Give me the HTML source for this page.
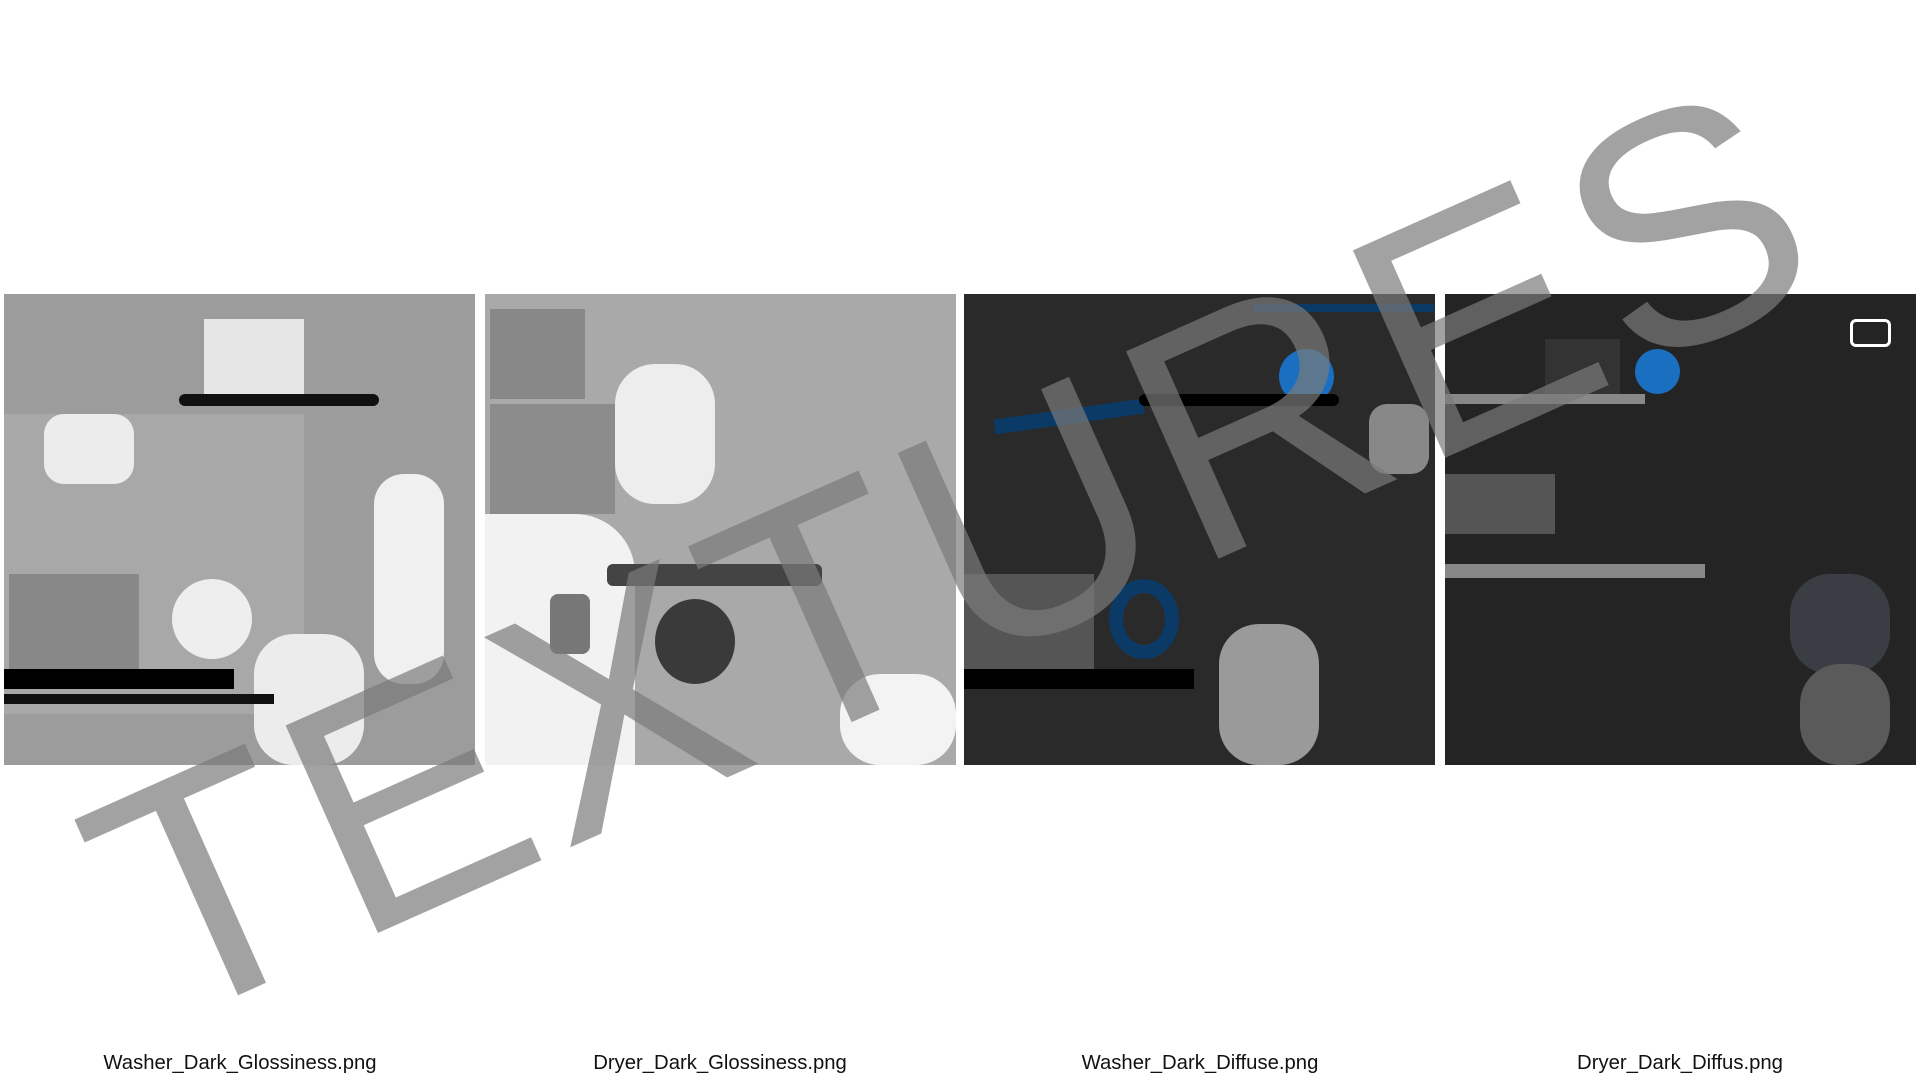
<!DOCTYPE html>
<html><head><meta charset="utf-8"><style>
html,body{margin:0;padding:0;width:1920px;height:1080px;background:#fff;overflow:hidden;position:relative;font-family:"Liberation Sans",sans-serif}
.p{position:absolute;top:294px;width:471px;height:471px;overflow:hidden}
.b{position:absolute}
.lbl{position:absolute;top:1052px;font-size:20.3px;color:#111;width:480px;text-align:center}
</style></head><body>
<div class="p" style="left:4px;background:#9c9c9c">
 <div class="b" style="left:200px;top:25px;width:100px;height:80px;background:#e6e6e6"></div>
 <div class="b" style="left:0;top:120px;width:300px;height:300px;background:#a8a8a8"></div>
 <div class="b" style="left:40px;top:120px;width:90px;height:70px;background:#ececec;border-radius:20px"></div>
 <div class="b" style="left:175px;top:100px;width:200px;height:12px;background:#111;border-radius:6px"></div>
 <div class="b" style="left:370px;top:180px;width:70px;height:210px;background:#f0f0f0;border-radius:30px"></div>
 <div class="b" style="left:5px;top:280px;width:130px;height:100px;background:#888"></div>
 <div class="b" style="left:168px;top:285px;width:80px;height:80px;background:#eee;border-radius:50%"></div>
 <div class="b" style="left:250px;top:340px;width:110px;height:131px;background:#ececec;border-radius:40px"></div>
 <div class="b" style="left:0;top:375px;width:230px;height:20px;background:#000"></div>
 <div class="b" style="left:0;top:400px;width:270px;height:10px;background:#111"></div>
</div>
<div class="p" style="left:485px;background:#a9a9a9">
 <div class="b" style="left:5px;top:15px;width:95px;height:90px;background:#888"></div>
 <div class="b" style="left:5px;top:110px;width:125px;height:110px;background:#8c8c8c"></div>
 <div class="b" style="left:0;top:220px;width:150px;height:251px;background:#f2f2f2;border-radius:0 60px 0 0"></div>
 <div class="b" style="left:130px;top:70px;width:100px;height:140px;background:#ededed;border-radius:40px"></div>
 <div class="b" style="left:122px;top:270px;width:215px;height:22px;background:#444;border-radius:6px"></div>
 <div class="b" style="left:65px;top:300px;width:40px;height:60px;background:#777;border-radius:8px"></div>
 <div class="b" style="left:170px;top:305px;width:80px;height:85px;background:#3a3a3a;border-radius:50%"></div>
 <div class="b" style="left:355px;top:380px;width:116px;height:91px;background:#f3f3f3;border-radius:40px"></div>
</div>
<div class="p" style="left:964px;background:#2a2a2a">
 <div class="b" style="left:290px;top:10px;width:180px;height:8px;background:#0b3a66"></div>
 <div class="b" style="left:315px;top:55px;width:55px;height:55px;background:#1a6fc0;border-radius:50%"></div>
 <div class="b" style="left:30px;top:115px;width:150px;height:15px;background:#0b3a66;transform:rotate(-8deg)"></div>
 <div class="b" style="left:175px;top:100px;width:200px;height:12px;background:#000;border-radius:6px"></div>
 <div class="b" style="left:405px;top:110px;width:60px;height:70px;background:#888;border-radius:18px"></div>
 <div class="b" style="left:145px;top:285px;width:70px;height:80px;border:14px solid #0b3a66;border-radius:50%;box-sizing:border-box"></div>
 <div class="b" style="left:0;top:280px;width:130px;height:100px;background:#555"></div>
 <div class="b" style="left:255px;top:330px;width:100px;height:141px;background:#9a9a9a;border-radius:40px"></div>
 <div class="b" style="left:0;top:375px;width:230px;height:20px;background:#000"></div>
</div>
<div class="p" style="left:1445px;background:#242424">
 <div class="b" style="left:100px;top:45px;width:75px;height:60px;background:#333"></div>
 <div class="b" style="left:190px;top:55px;width:45px;height:45px;background:#1a6fc0;border-radius:50%"></div>
 <div class="b" style="left:405px;top:25px;width:35px;height:22px;border:3px solid #fff;border-radius:6px"></div>
 <div class="b" style="left:0;top:100px;width:200px;height:10px;background:#888"></div>
 <div class="b" style="left:0;top:180px;width:110px;height:60px;background:#555"></div>
 <div class="b" style="left:0;top:270px;width:260px;height:14px;background:#888"></div>
 <div class="b" style="left:345px;top:280px;width:100px;height:100px;background:#3a3d44;border-radius:40%"></div>
 <div class="b" style="left:355px;top:370px;width:90px;height:101px;background:#5a5a5a;border-radius:40px"></div>
</div>
<svg width="1920" height="1080" style="position:absolute;left:0;top:0">
 <text x="160" y="1030" transform="rotate(-24 160 1030)" font-family="Liberation Sans, sans-serif" font-size="330" fill="#7a7a7a" fill-opacity="0.7" textLength="1830" lengthAdjust="spacing">TEXTURES</text>
</svg>
<div class="lbl" style="left:0">Washer_Dark_Glossiness.png</div>
<div class="lbl" style="left:480px">Dryer_Dark_Glossiness.png</div>
<div class="lbl" style="left:960px">Washer_Dark_Diffuse.png</div>
<div class="lbl" style="left:1440px">Dryer_Dark_Diffus.png</div>
</body></html>
